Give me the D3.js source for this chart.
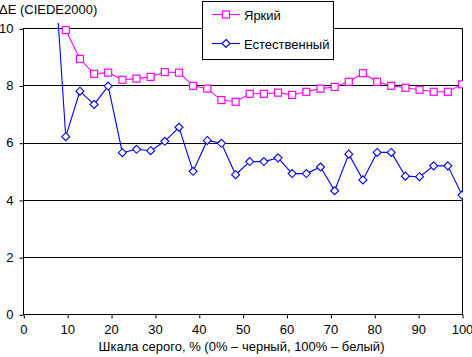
<!DOCTYPE html>
<html><head><meta charset="utf-8">
<script src="https://cdn.jsdelivr.net/npm/d3@7"></script>
<style>
html,body{margin:0;padding:0;background:#fff;}
svg{display:block;}
text{font-family:"Liberation Sans",Arial,sans-serif;font-size:13px;fill:#000;}
</style></head>
<body>
<script>
// Data (x = % of gray scale, steps of 100/31)
const grayLevels = [6.45,9.68,12.90,16.13,19.35,22.58,25.81,29.03,32.26,35.48,38.71,41.94,45.16,48.39,51.61,54.84,58.06,61.29,64.52,67.74,70.97,74.19,77.42,80.65,83.87,87.10,90.32,93.55,96.77,100];
const bright  = [null,9.94,8.93,8.41,8.45,8.20,8.24,8.30,8.47,8.45,7.99,7.89,7.49,7.43,7.71,7.71,7.75,7.67,7.78,7.89,7.95,8.13,8.43,8.13,7.99,7.92,7.85,7.78,7.78,8.04];
const natural = [13.7,6.21,7.80,7.34,7.98,5.65,5.77,5.72,6.05,6.54,5.00,6.08,5.98,4.88,5.34,5.34,5.47,4.92,4.92,5.15,4.32,5.60,4.70,5.66,5.66,4.83,4.81,5.19,5.19,4.17];
const seriesNames = ["Яркий","Естественный"];
const xTicks = [0,10,20,30,40,50,60,70,80,90,100];
const yTicks = [0,2,4,6,8,10];
const yTitle = "ΔE (CIEDE2000)";
const xTitle = "Шкала серого, % (0% – черный, 100% – белый)";

const W=472,H=357;
const L=23.3,R=462,T=28.3,B=314.3;
const svg=d3.select("body").append("svg").attr("width",W).attr("height",H);
const x=d3.scaleLinear().domain([0,100]).range([L,R]);
const y=d3.scaleLinear().domain([0,10]).range([B,T]);

// gridlines
svg.append("g").selectAll("line").data(yTicks.filter(d=>d>0)).join("line")
  .attr("x1",Math.round(L)).attr("x2",Math.round(R)).attr("y1",d=>Math.round(y(d))+0.5).attr("y2",d=>Math.round(y(d))+0.5)
  .attr("stroke","#000").attr("stroke-width",1);
// right border
svg.append("line").attr("x1",Math.round(R)+0.5).attr("x2",Math.round(R)+0.5).attr("y1",Math.round(T)).attr("y2",Math.round(B)+1).attr("stroke","#000");

// axes
const xAxis=d3.axisBottom(x).tickValues(xTicks).tickSize(4).tickPadding(6).tickSizeOuter(0);
const gx=svg.append("g").attr("transform",`translate(0,${Math.round(B)+0.5})`).call(xAxis);
gx.select(".domain").remove();
gx.append("line").attr("x1",Math.round(L)).attr("x2",Math.round(R)+1).attr("stroke","#000");
gx.selectAll(".tick line").attr("stroke","#000").attr("transform","translate(0.5,0)");
gx.selectAll(".tick text").attr("font-size",12).attr("font-family","Liberation Sans, Arial, sans-serif").attr("fill","#000");

const yAxis=d3.axisLeft(y).tickValues(yTicks).tickSize(4).tickPadding(6).tickSizeOuter(0);
const gy=svg.append("g").attr("transform",`translate(${Math.round(L)+0.5},0)`).call(yAxis);
gy.select(".domain").remove();
gy.append("line").attr("y1",Math.round(T)).attr("y2",Math.round(B)+1).attr("stroke","#000");
gy.selectAll(".tick line").attr("stroke","#000").attr("transform","translate(0,0.5)");
gy.selectAll(".tick text").attr("font-size",12).attr("font-family","Liberation Sans, Arial, sans-serif").attr("fill","#000");

// titles
svg.append("text").attr("x",-1).attr("y",14).text(yTitle);
svg.append("text").attr("x",241.5).attr("y",351).attr("text-anchor","middle").text(xTitle);

// clip
svg.append("clipPath").attr("id","clip").append("rect").attr("x",L).attr("y",23).attr("width",R-L+1).attr("height",B-23);

const series=[
  {name:seriesNames[0],vals:bright,color:"#FF00FF",shape:"square"},
  {name:seriesNames[1],vals:natural,color:"#0000FF",shape:"diamond"}
];
function marker(g,shape,color){
  if(shape==="square"){
    g.append("rect").attr("x",-3.5).attr("y",-3.5).attr("width",7).attr("height",7)
      .attr("fill","#fff").attr("stroke",color).attr("stroke-width",1.2);
  } else {
    g.append("path").attr("d","M0,-4L4,0L0,4L-4,0Z").attr("fill","#fff").attr("stroke",color).attr("stroke-width",1.1);
  }
}
const plot=svg.append("g").attr("clip-path","url(#clip)");
series.forEach(s=>{
  const pts=grayLevels.map((g,i)=>({x:g,v:s.vals[i]})).filter(p=>p.v!=null);
  const line=d3.line().x(p=>x(p.x)).y(p=>y(p.v));
  plot.append("path").attr("d",line(pts)).attr("fill","none").attr("stroke",s.color).attr("stroke-width",1.1);
  pts.filter(p=>p.v<=10.05).forEach(p=>{
    const g=plot.append("g").attr("transform",`translate(${x(p.x)},${y(p.v)})`);
    marker(g,s.shape,s.color);
  });
});

// legend
const lg=svg.append("g");
lg.append("rect").attr("x",202.5).attr("y",1.5).attr("width",131).attr("height",58).attr("fill","#fff").attr("stroke","#000").attr("stroke-width",1);
series.forEach((s,i)=>{
  const cy=[14.5,43.5][i];
  lg.append("line").attr("x1",212).attr("x2",240).attr("y1",cy).attr("y2",cy).attr("stroke",s.color).attr("stroke-width",1.1);
  const g=lg.append("g").attr("transform",`translate(226,${cy})`);
  marker(g,s.shape,s.color);
  lg.append("text").attr("x",244).attr("y",cy+5).text(s.name);
});
</script>
</body></html>
